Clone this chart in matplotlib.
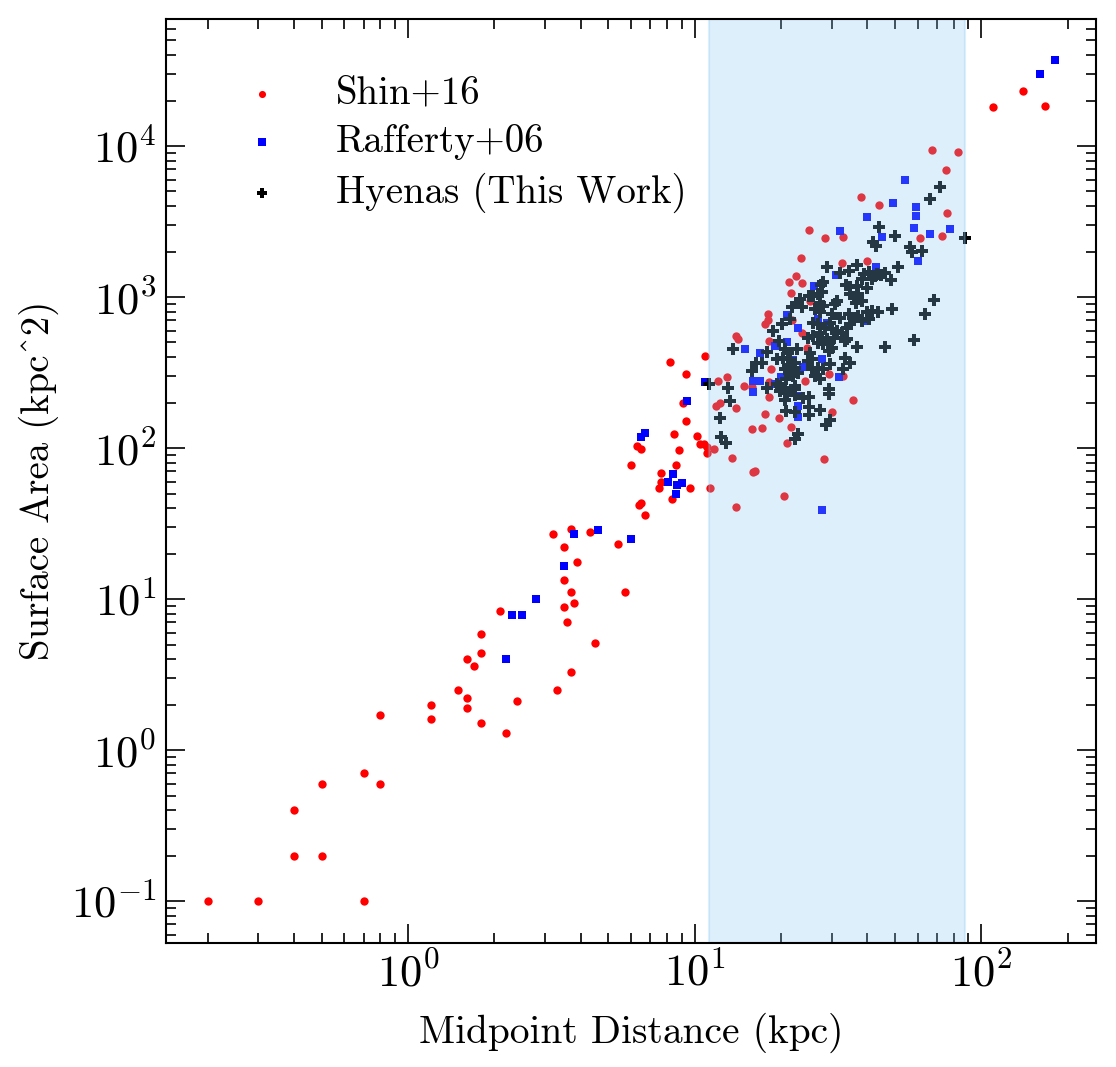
import matplotlib
matplotlib.use("Agg")
import matplotlib.pyplot as plt
from matplotlib.ticker import LogLocator, NullFormatter

# ---------------- data ----------------
shin_dist = [0.2, 0.3, 0.7, 0.4, 0.5, 0.4, 0.5, 0.7, 0.8, 0.8, 1.2, 1.2, 1.5, 1.6, 1.6, 1.8, 2.2, 2.4, 3.3,
             1.8, 1.6, 1.7, 1.8, 2.1, 3.2,
             3.7, 4.3, 5.4, 3.5, 3.9, 3.5, 3.7, 5.7, 3.5, 3.8, 3.6, 4.5, 3.7,
             10.9, 8.2, 9.3, 9.1, 9.3, 8.5, 10.2, 10.4, 10.8, 11.0, 11.0, 6.3, 6.5, 8.8, 6.0, 8.6, 7.6, 7.6,
             7.5, 9.6, 8.3, 6.4, 6.5, 6.7,
             67, 83, 75, 38, 44, 76, 25, 28.5, 33, 61, 73, 23.5, 32.7, 40, 22.6, 21.4, 23.7, 21.6, 25.3,
             18.0, 18.0, 17.6, 21.9, 18.1, 23.7, 13.9, 14.2, 24.7, 18.5, 24.3, 29.5, 12.1, 13.0, 14.8, 15.9,
             18.1, 18.1, 33, 35.7, 11.9, 12.3, 13.9, 17.6, 19.7, 30,
             21.7, 15.8, 17.1, 21.0, 11.7, 13.5, 28.3, 16.0, 16.2, 11.3, 20.5, 13.9,
             110, 140, 167]
shin_area = [0.1, 0.1, 0.1, 0.2, 0.2, 0.4, 0.6, 0.7, 0.6, 1.7, 2.0, 1.6, 2.5, 2.2, 1.9, 1.5, 1.3, 2.1, 2.5,
             4.4, 4.0, 3.6, 5.9, 8.3, 27,
             29, 28, 23, 22, 17.5, 13.3, 11.2, 11.2, 8.8, 9.4, 7.0, 5.1, 3.3,
             410, 370, 310, 200, 150, 124, 120, 107, 106, 102, 93, 103, 99, 97, 77, 77, 68, 60,
             54, 54, 46, 42, 43, 36,
             9400, 9100, 6900, 4600, 4100, 3600, 2800, 2450, 2500, 2450, 2530, 1800, 1670, 1720, 1370, 1250,
             1230, 1057, 935,
             778, 700, 658, 700, 515, 582, 550, 531, 462, 336, 279, 311, 279, 297, 259, 255,
             219, 275, 301, 209, 191, 200, 185, 169, 159, 174,
             138, 134, 136, 108, 99, 86, 84, 69.5, 71, 54, 48, 41,
             18000, 23000, 18500]

raff_dist = [2.8, 2.3, 2.5, 2.2, 3.8, 4.6, 6.0, 3.5, 10.9, 9.4, 6.5, 6.7, 8.4, 8.1, 8.7, 9.0, 8.6,
             54, 49, 40, 59, 59, 58, 78, 66, 45, 32, 60, 43, 31, 26, 22.8, 21, 27, 29, 31, 23, 39,
             21, 19, 16.9, 15, 27.9, 23.9, 22.1, 31.9, 20, 16, 16.9, 16, 19, 23, 23, 23, 27.9,
             160, 180]
raff_area = [10, 7.9, 7.8, 4.0, 27, 28.5, 25, 16.5, 275, 205, 118, 125, 67, 60, 57, 59, 50,
             6000, 4190, 3380, 3940, 3430, 2860, 2810, 2610, 2490, 2730, 1720, 1570, 1390, 1175, 879, 762,
             716, 678, 750, 621, 689,
             507, 477, 429, 456, 391, 346, 385, 297, 297, 279, 279, 236, 267, 222, 191, 161, 39,
             30000, 37000]

hyena_dist = [71.9, 66.2, 44.1, 50.1, 42.0, 42.8, 56.5, 57.4, 62.2, 29.0, 36.9, 51.3, 48.5, 68.5, 48.9,
              63.8, 13.6, 17.8, 58.4, 16.3, 17.2, 15.8, 13.1, 17.8, 13.3, 19.9, 21.0, 22.3, 22.4, 20.7,
              23.9, 25.1, 29.3, 12.3, 20.9, 22.3, 25.1, 27.4, 25.1, 29.7, 11.2,
              28.8, 22.3, 23.0, 12.4, 12.9, 88.0,
              32.1, 34.5, 38.8, 40.4, 43.1, 44.7, 46.1, 28.1, 27.5, 33.7, 34.8, 36.9, 38.2, 39.8, 41.4,
              42.6, 25.1, 25.9, 27.0, 27.7, 34.8, 35.8, 37.2, 38.2, 36.5, 23.3, 22.7, 23.6, 27.4, 28.1,
              31.3, 30.9, 21.8, 26.3, 27.4, 30.1, 32.1, 34.4, 35.8, 37.2, 38.2, 39.8, 41.4, 43.7, 40.4,
              20.1, 18.7, 21.5, 25.9, 27.0, 28.5, 29.7, 30.1, 31.3, 32.6, 33.9, 34.8, 27.4, 25.9, 24.9,
              27.7, 28.9, 30.5, 27.0, 28.1, 29.3, 30.1, 29.5, 33.9, 33.5, 36.7, 46.1, 19.7, 20.7, 21.2,
              22.8, 25.3, 25.6, 24.9, 19.3, 20.4, 21.5, 22.4, 21.2, 20.7, 21.5, 22.4, 23.0, 22.1, 20.9,
              25.6, 27.0, 28.1, 29.7, 33.5, 34.8, 33.0, 26.3, 27.4, 19.3, 19.9, 20.7, 22.4, 29.3]
hyena_area = [5320, 4430, 2890, 2550, 2330, 2190, 2130, 2000, 2030, 1590, 1640, 1590, 1300, 960, 836,
              775, 454, 434, 521, 366, 366, 324, 250, 250, 205, 239, 231, 246, 225, 208,
              214, 218, 228, 158, 176, 173, 187, 179, 165, 153, 266,
              143, 115, 124, 119, 108, 2450,
              1441, 1494, 1419, 1456, 1419, 1398, 1441, 1250, 1200, 1200, 1157, 1187, 1315, 1140, 1315,
              1369, 1019, 1019, 1045, 1072, 1045, 994, 1045, 944, 920, 969, 920, 853, 920, 875,
              944, 897, 853, 831, 790, 770, 732, 770, 732, 751, 695, 790, 810, 790, 713,
              661, 597, 713, 678, 661, 628, 678, 612, 597, 582, 628, 661, 582, 553, 539,
              539, 525, 539, 499, 487, 499, 463, 440, 525, 512, 470, 470, 512, 451, 429,
              455, 429, 387, 377, 387, 397, 387, 368, 350, 332, 324, 341, 316, 300, 285,
              332, 341, 332, 358, 397, 368, 332, 300, 285, 264, 257, 251, 257, 245]

labels = ["Shin+16", "Rafferty+06", "Hyenas (This Work)"]

# ---------------- style ----------------
plt.rcParams.update({
    "font.family": "serif",
    "font.serif": ["cmr10"],
    "mathtext.fontset": "cm",
    "axes.formatter.use_mathtext": True,
    "axes.unicode_minus": False,
    "font.size": 14,
    "axes.linewidth": 0.75,
})

fig = plt.figure(figsize=(5.58, 5.335), dpi=200)
ax = fig.add_axes([0.14875, 0.1165, 0.98208 - 0.14875, 0.98247 - 0.1165])

ax.scatter(shin_dist, shin_area, s=9, c="red", marker="o", linewidths=0, label=labels[0], zorder=1)
ax.scatter(raff_dist, raff_area, s=9, c="blue", marker="s", linewidths=0, label=labels[1], zorder=1)
ax.scatter(hyena_dist, hyena_area, s=19, c="black", marker="P", linewidths=0, label=labels[2], zorder=1)

ax.axvspan(min(hyena_dist), max(hyena_dist), color="#86c8f2", alpha=0.28, lw=0.8, zorder=2)

ax.set_xscale("log")
ax.set_yscale("log")
ax.set_xlim(0.1432, 251)
ax.set_ylim(0.053, 69700)

ax.xaxis.set_major_locator(LogLocator(base=10, numticks=20))
ax.yaxis.set_major_locator(LogLocator(base=10, numticks=20))
ax.xaxis.set_minor_locator(LogLocator(base=10, subs=range(2, 10), numticks=40))
ax.yaxis.set_minor_locator(LogLocator(base=10, subs=range(2, 10), numticks=40))
ax.xaxis.set_minor_formatter(NullFormatter())
ax.yaxis.set_minor_formatter(NullFormatter())

ax.tick_params(which="both", direction="in", top=True, right=True)
ax.tick_params(which="major", length=6.8, width=0.6, labelsize=16, pad=3.5)
ax.tick_params(which="minor", length=3.6, width=0.6)

ax.set_xlabel("Midpoint Distance (kpc)", fontsize=14.2, labelpad=6)
ax.set_ylabel("Surface Area (kpc^2)", fontsize=14, labelpad=4)

ax.legend(loc="upper left", frameon=False, fontsize=14, scatterpoints=1, markerscale=0.85,
          borderaxespad=1.07, handletextpad=0.9, labelspacing=0.32)

fig.savefig("out.png", dpi=200)
